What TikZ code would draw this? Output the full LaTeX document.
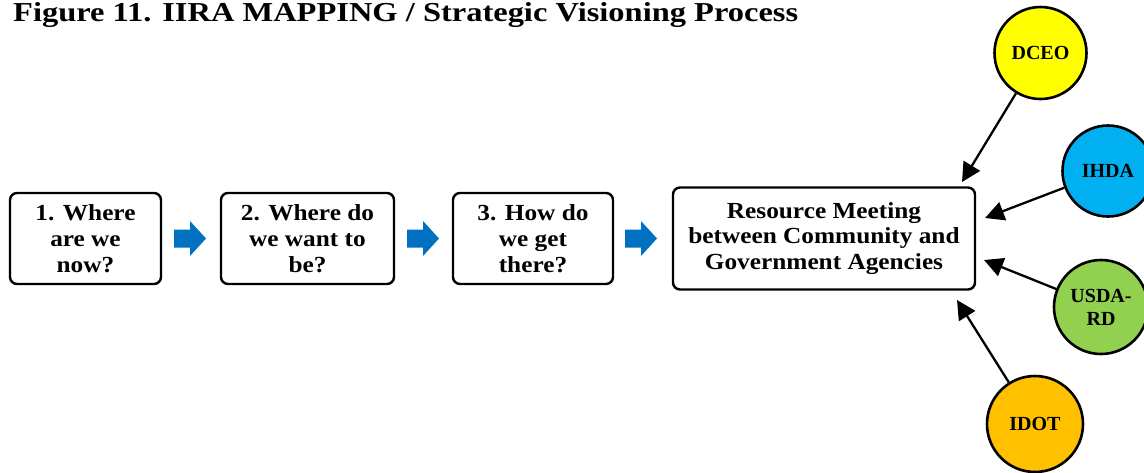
\documentclass[tikz,border=0pt]{standalone}
\usepackage{fontspec}
\setmainfont{Liberation Serif}[FakeStretch=1.1]
\newfontfamily\circfont{Liberation Serif}
\usetikzlibrary{arrows.meta}
\definecolor{arrowblue}{HTML}{0070C0}
\definecolor{cyellow}{HTML}{FFFF00}
\definecolor{cblue}{HTML}{00B0F0}
\definecolor{cgreen}{HTML}{92D050}
\definecolor{corange}{HTML}{FFC000}
\tikzset{
  stepbox/.style={draw, line width=2.4pt, rounded corners=7pt, align=center,
    inner sep=0pt, font=\fontsize{23}{25.7}\selectfont\bfseries},
  agency/.style={circle, draw, line width=2.6pt, inner sep=0pt, align=center,
    font=\circfont\fontsize{20}{23}\selectfont\bfseries},
  feed/.style={line width=2.3pt, -{Triangle[length=19pt,width=19pt]}},
  blockarrow/.style={fill=arrowblue}
}
\begin{document}
\begin{tikzpicture}[x=1pt,y=-1pt]
\useasboundingbox (0,0) rectangle (1144,472);
\node[anchor=base west, inner sep=0pt] (title) at (13,21)
  {\resizebox{785pt}{19pt}{\fontsize{26}{30}\selectfont\bfseries Figure 11. IIRA MAPPING / Strategic Visioning Process}};

\node[stepbox, minimum width=151pt, minimum height=91pt] (s1) at (85.5,238.5) {1. Where\\are we\\now?};
\node[stepbox, minimum width=173pt, minimum height=91pt] (s2) at (307.5,238.5) {2. Where do\\we want to\\be?};
\node[stepbox, minimum width=160pt, minimum height=91pt] (s3) at (533,238.5) {3. How do\\we get\\there?};
\node[stepbox, minimum width=302pt, minimum height=102pt] (s4) at (824,238.5) {Resource Meeting\\between Community and\\Government Agencies};

\foreach \x in {174,407,625}{
  \fill[blockarrow] (\x,229.5) -- (\x+16,229.5) -- (\x+16,221) -- (\x+32,238.5) -- (\x+16,256) -- (\x+16,247.5) -- (\x,247.5) -- cycle;
}

\node[agency, fill=cyellow, minimum size=92pt] (dceo) at (1040.5,53) {DCEO};
\node[agency, fill=cblue, minimum size=91pt] (ihda) at (1108,171) {IHDA};
\node[agency, fill=cgreen, minimum size=94pt] (usda) at (1101,307) {USDA-\\RD};
\node[agency, fill=corange, minimum size=96pt] (idot) at (1035,424) {IDOT};

\coordinate (t1) at (962,182);
\coordinate (t2) at (985,218);
\coordinate (t3) at (984,260);
\coordinate (t4) at (957,300);
\draw[feed] (dceo) -- (t1);
\draw[feed] (ihda) -- (t2);
\draw[feed] (usda) -- (t3);
\draw[feed] (idot) -- (t4);
\end{tikzpicture}
\end{document}
